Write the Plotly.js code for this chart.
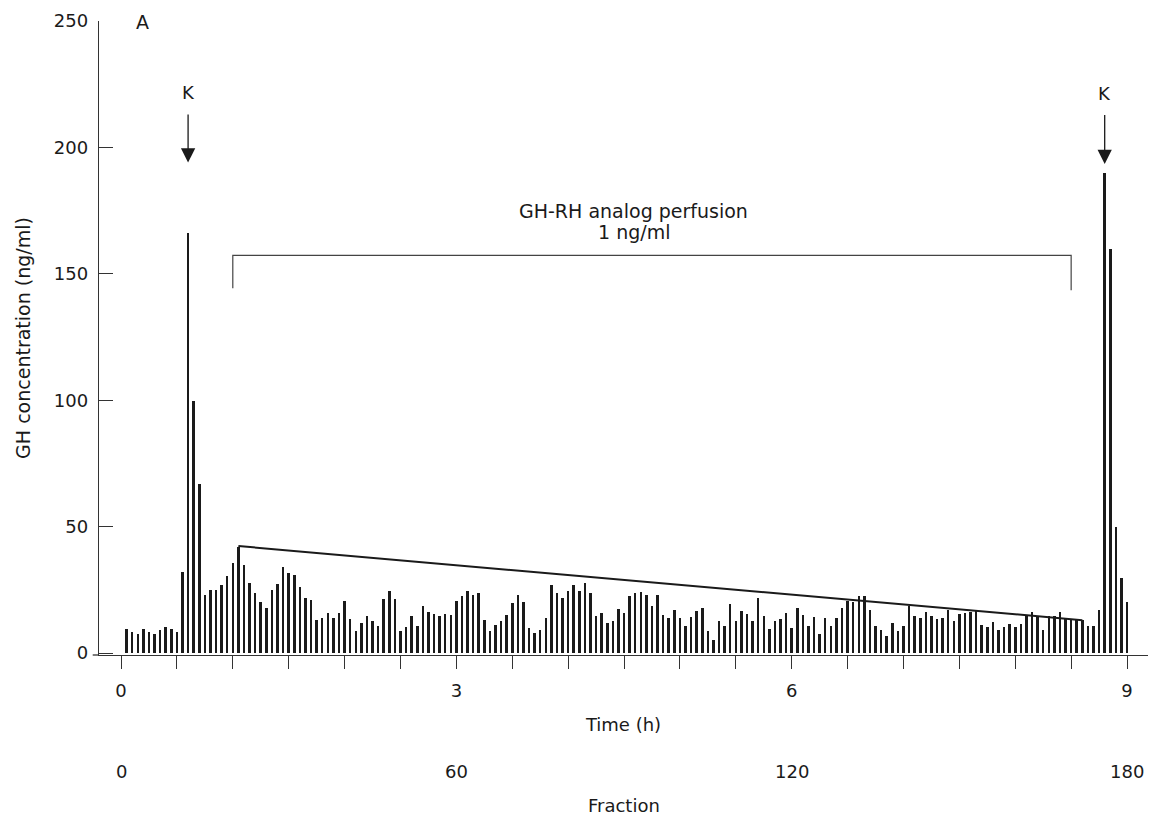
<!DOCTYPE html>
<html>
<head>
<meta charset="utf-8">
<script src="https://cdn.plot.ly/plotly-3.0.1.min.js"></script>
<style>
  html, body { margin: 0; padding: 0; background: #ffffff; }
  #chart { width: 1150px; height: 817px; }
</style>
</head>
<body>
<div id="chart"></div>
<script>
// ---- data ----
const fractions = Array.from({length: 180}, (_, i) => i + 1);
const ghConcentration = [
  9.3, 8.5, 7.4, 9.4, 8.5, 7.4, 9.2, 10.1, 9.3, 8.4,
  32, 166, 99.5, 66.7, 23.1, 24.8, 24.8, 26.9, 30.5, 35.5,
  42, 35, 27.6, 23.9, 20, 17.7, 24.8, 27.1, 33.9, 31.8,
  30.8, 26.3, 21.8, 21.0, 13.0, 13.9, 16.0, 13.9, 16.0, 20.6,
  13.5, 8.9, 11.8, 14.7, 12.8, 10.7, 21.3, 24.6, 21.4, 8.6,
  10.3, 14.7, 10.6, 18.6, 16.4, 15.3, 14.8, 15.5, 15.2, 20.4,
  22.6, 24.6, 22.8, 23.8, 12.9, 8.8, 10.9, 12.5, 15.0, 19.8,
  22.9, 20.0, 10.0, 7.8, 9.0, 13.8, 26.9, 23.6, 21.9, 24.6,
  26.9, 24.6, 27.7, 23.8, 14.6, 15.9, 11.7, 12.5, 17.5, 15.8,
  22.6, 23.7, 24.0, 22.8, 18.4, 22.9, 14.9, 14.0, 17.1, 13.7,
  10.5, 14.2, 16.7, 17.7, 8.8, 5.3, 12.6, 10.8, 19.5, 12.6,
  16.6, 15.4, 12.6, 21.7, 14.8, 9.6, 12.6, 13.6, 15.8, 9.9,
  18.0, 15.0, 10.8, 14.2, 7.6, 14.0, 10.8, 14.0, 17.8, 20.7,
  20.3, 22.7, 22.7, 17.0, 10.5, 9.0, 6.6, 11.7, 8.7, 10.7,
  18.4, 14.8, 13.7, 16.1, 14.6, 13.6, 13.7, 17.1, 12.8, 15.5,
  16.0, 16.3, 16.7, 11.2, 10.1, 12.3, 9.1, 10.1, 11.3, 10.1,
  11.5, 15.0, 16.1, 14.5, 9.0, 14.5, 14.5, 16.1, 13.6, 13.0,
  13.0, 13.0, 10.8, 10.8, 17.0, 190, 160, 50, 29.5, 20
];
const trendX = [21, 172];
const trendY = [42.3, 13];
const bracketX = [20, 20, 170, 170];
const bracketY = [144.3, 157.3, 157.3, 143.5];
const fractionsPerHour = 20;
const halfHourTicks = Array.from({length: 19}, (_, i) => i * fractionsPerHour / 2);
const timeLabels = [0, 3, 6, 9];
const fractionLabels = [0, 60, 120, 180];
const kMarkers = [12, 176];
const kArrowTips = [194, 193.4];
const yTicks = [0, 50, 100, 150, 200, 250];

// ---- chart ----
const FONT = '"DejaVu Sans", "Liberation Sans", Arial, sans-serif';
const INK = '#1a1a1a';

const tickText = halfHourTicks.map(v => {
  const h = v / fractionsPerHour;
  return timeLabels.includes(h) ? String(h) : '';
});

const traces = [
  {
    type: 'bar',
    x: fractions,
    y: ghConcentration,
    width: 0.45,
    marker: {color: INK, line: {width: 0}},
    hoverinfo: 'x+y'
  },
  {
    type: 'scatter', mode: 'lines',
    x: trendX, y: trendY,
    line: {color: INK, width: 2},
    hoverinfo: 'skip'
  },
  {
    type: 'scatter', mode: 'lines',
    x: bracketX, y: bracketY,
    line: {color: '#444', width: 1.2},
    hoverinfo: 'skip'
  }
];

const annotations = [];
annotations.push({
  x: 3.9, y: 249.6, xref: 'x', yref: 'y', text: 'A', showarrow: false,
  font: {family: FONT, size: 19, color: INK}
});
kMarkers.forEach((k, i) => {
  annotations.push({
    x: k, y: kArrowTips[i], xref: 'x', yref: 'y', text: 'K',
    showarrow: true, arrowhead: 2, arrowsize: 2.2, arrowwidth: 1.3,
    arrowcolor: INK, ax: 0, ay: i === 0 ? -70 : -71, startstandoff: 10,
    font: {family: FONT, size: 18, color: INK}
  });
});
annotations.push({
  x: 91.7, y: 174.8, xref: 'x', yref: 'y', text: 'GH-RH analog perfusion',
  showarrow: false, font: {family: FONT, size: 19, color: INK}
});
annotations.push({
  x: 91.7, y: 166.5, xref: 'x', yref: 'y', text: '1 ng/ml',
  showarrow: false, font: {family: FONT, size: 19, color: INK}
});
fractionLabels.forEach(f => {
  annotations.push({
    x: f, y: -0.1845, xref: 'x', yref: 'paper', text: String(f),
    showarrow: false, yanchor: 'middle',
    font: {family: FONT, size: 18, color: INK}
  });
});
annotations.push({
  x: 90, y: -0.2366, xref: 'x', yref: 'paper', text: 'Fraction',
  showarrow: false, yanchor: 'middle',
  font: {family: FONT, size: 18, color: INK}
});

const layout = {
  width: 1150, height: 817,
  margin: {l: 99, r: 2, t: 21, b: 162, pad: 0},
  paper_bgcolor: '#ffffff', plot_bgcolor: '#ffffff',
  showlegend: false,
  bargap: 0,
  font: {family: FONT, size: 18, color: INK},
  xaxis: {
    range: [-3.94, 183.75],
    showgrid: false, zeroline: false,
    showline: true, linecolor: '#333', linewidth: 1.3,
    ticks: 'outside', ticklen: 13, tickwidth: 1, tickcolor: '#333',
    tickmode: 'array', tickvals: halfHourTicks, ticktext: tickText,
    ticklabelstandoff: 6,
    tickfont: {family: FONT, size: 18, color: INK},
    title: {text: 'Time (h)', standoff: 18, font: {family: FONT, size: 18, color: INK}},
    automargin: false
  },
  yaxis: {
    range: [-0.79, 250],
    showgrid: false, zeroline: false,
    showline: true, linecolor: '#333', linewidth: 1.3,
    ticks: 'inside', ticklen: 14, tickwidth: 1, tickcolor: '#333',
    tickmode: 'array', tickvals: yTicks,
    ticklabelstandoff: 6,
    tickfont: {family: FONT, size: 18, color: INK},
    title: {text: 'GH concentration (ng/ml)', standoff: 18, font: {family: FONT, size: 19, color: INK}},
    automargin: false
  },
  shapes: [
    {type: 'line', xref: 'paper', yref: 'paper', x0: -0.006, x1: 0, y0: 0, y1: 0,
     line: {color: '#333', width: 1.3}}
  ],
  annotations: annotations
};

Plotly.newPlot('chart', traces, layout, {displayModeBar: false, staticPlot: true});
</script>
</body>
</html>
